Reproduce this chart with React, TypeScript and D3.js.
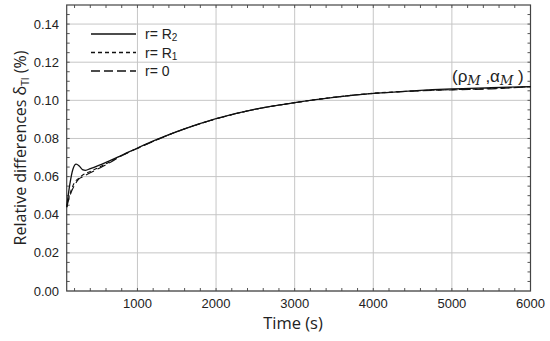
import React from "react";
import * as d3 from "d3";

const tR2 = [100, 140, 180, 220, 260, 300, 340, 400, 500, 600, 800, 1000, 1250, 1500, 2000, 2500, 3000, 3500, 4000, 4500, 5000, 5500, 6000];
const vR2 = [0.044, 0.056, 0.064, 0.0665, 0.0655, 0.0637, 0.0633, 0.0642, 0.0658, 0.0675, 0.0712, 0.075, 0.0795, 0.0836, 0.0904, 0.0954, 0.0988, 0.1015, 0.1036, 0.105, 0.106, 0.1066, 0.1072];

const tR1 = [100, 150, 200, 250, 300, 400, 500, 600, 800, 1000, 1250, 1500, 2000, 2500, 3000, 3500, 4000, 4500, 5000, 5500, 6000];
const vR1 = [0.044, 0.052, 0.057, 0.059, 0.0607, 0.0627, 0.0647, 0.0667, 0.0711, 0.0749, 0.0794, 0.0835, 0.0903, 0.0953, 0.0988, 0.1016, 0.1037, 0.1049, 0.1056, 0.1062, 0.1072];

const t0 = [100, 150, 200, 250, 300, 400, 500, 600, 800, 1000, 1250, 1500, 2000, 2500, 3000, 3500, 4000, 4500, 5000, 5500, 6000];
const v0 = [0.044, 0.051, 0.0555, 0.0585, 0.0598, 0.062, 0.0641, 0.0662, 0.0709, 0.0748, 0.0793, 0.0835, 0.0903, 0.0953, 0.0987, 0.1016, 0.1036, 0.1048, 0.1055, 0.106, 0.1072];

const xTicks = [1000, 2000, 3000, 4000, 5000, 6000];
const yTicks = [0, 0.02, 0.04, 0.06, 0.08, 0.1, 0.12, 0.14];

const seriesNames = ["r= R", "r= R", "r= 0"];
const seriesSubs = ["2", "1", ""];
const dashes = ["none", "4,3", "9,4"];

export default function App() {
  const left = 66.7, right = 530.5, top = 5, bottom = 291;
  const x = d3.scaleLinear().domain([100, 6000]).range([left, right]);
  const y = d3.scaleLinear().domain([0, 0.15]).range([bottom, top]);
  const line = d3
    .line<[number, number]>()
    .x((d) => x(d[0]))
    .y((d) => y(d[1]))
    .curve(d3.curveMonotoneX);
  const series = [
    tR2.map((t, i) => [t, vR2[i]] as [number, number]),
    tR1.map((t, i) => [t, vR1[i]] as [number, number]),
    t0.map((t, i) => [t, v0[i]] as [number, number]),
  ];
  const xMinor = d3.range(200, 6000, 200);
  const yMinor = d3.range(0.005, 0.15, 0.005);
  const font = "'Liberation Sans', Arial, sans-serif";
  return (
    <svg width={550} height={341} style={{ position: "absolute", left: 0, top: 0 }}>
      <rect x={0} y={0} width={550} height={341} fill="#fff" />
      {xTicks.map((t) => (
        <line key={"gx" + t} x1={x(t)} x2={x(t)} y1={top} y2={bottom} stroke="#c6c6c6" strokeWidth={1} />
      ))}
      {yTicks.map((t) => (
        <line key={"gy" + t} x1={left} x2={right} y1={y(t)} y2={y(t)} stroke="#c6c6c6" strokeWidth={1} />
      ))}
      {xMinor.map((t) => (
        <g key={"mx" + t}>
          <line x1={x(t)} x2={x(t)} y1={bottom} y2={bottom - 3} stroke="#555" />
          <line x1={x(t)} x2={x(t)} y1={top} y2={top + 3} stroke="#555" />
        </g>
      ))}
      {yMinor.map((t) => (
        <g key={"my" + t}>
          <line x1={left} x2={left + 3} y1={y(t)} y2={y(t)} stroke="#555" />
          <line x1={right} x2={right - 3} y1={y(t)} y2={y(t)} stroke="#555" />
        </g>
      ))}
      <rect x={left} y={top} width={right - left} height={bottom - top} fill="none" stroke="#444" strokeWidth={1.2} />
      {series.map((s, i) => (
        <path key={"s" + i} d={line(s) || ""} fill="none" stroke="#111" strokeWidth={i === 0 ? 1.3 : 1.1} strokeDasharray={dashes[i]} />
      ))}
      {xTicks.map((t) => (
        <text key={"xl" + t} x={x(t)} y={308} textAnchor="middle" fontFamily={font} fontSize={13} fill="#222">
          {t}
        </text>
      ))}
      {yTicks.map((t) => (
        <text key={"yl" + t} x={59} y={y(t) + 4.5} textAnchor="end" fontFamily={font} fontSize={13} fill="#222">
          {t.toFixed(2)}
        </text>
      ))}
      {seriesNames.map((n, i) => (
        <g key={"lg" + i}>
          <line x1={91} x2={136} y1={34 + i * 18.5} y2={34 + i * 18.5} stroke="#111" strokeWidth={i === 0 ? 1.5 : 1.3} strokeDasharray={dashes[i]} />
          <text x={145} y={39 + i * 18.5} fontFamily={font} fontSize={14} fill="#222">
            {n}
            {seriesSubs[i] ? <tspan fontSize={10} dy={2}>{seriesSubs[i]}</tspan> : null}
          </text>
        </g>
      ))}
      <text x={452} y={82} fontFamily={font} fontSize={17} fill="#222">
        ({"\u03C1"}
        <tspan fontFamily="'DejaVu Serif', serif" fontStyle="italic" fontSize={13} dy={3}>M</tspan>
        <tspan dy={-3}> ,{"\u03B1"}</tspan>
        <tspan fontFamily="'DejaVu Serif', serif" fontStyle="italic" fontSize={13} dy={3}>M</tspan>
        <tspan dy={-3}> )</tspan>
      </text>
      <text x={293} y={329} textAnchor="middle" fontFamily="'Open Sans', sans-serif" fontSize={16.5} fill="#222">
        Time (s)
      </text>
      <text transform="translate(26,148) rotate(-90)" textAnchor="middle" fontFamily="'Open Sans', sans-serif" fontSize={16} fill="#222">
        Relative differences {"\u03B4"}
        <tspan fontSize={10} dy={3}>TI</tspan>
        <tspan dy={-3}> (%)</tspan>
      </text>
    </svg>
  );
}
